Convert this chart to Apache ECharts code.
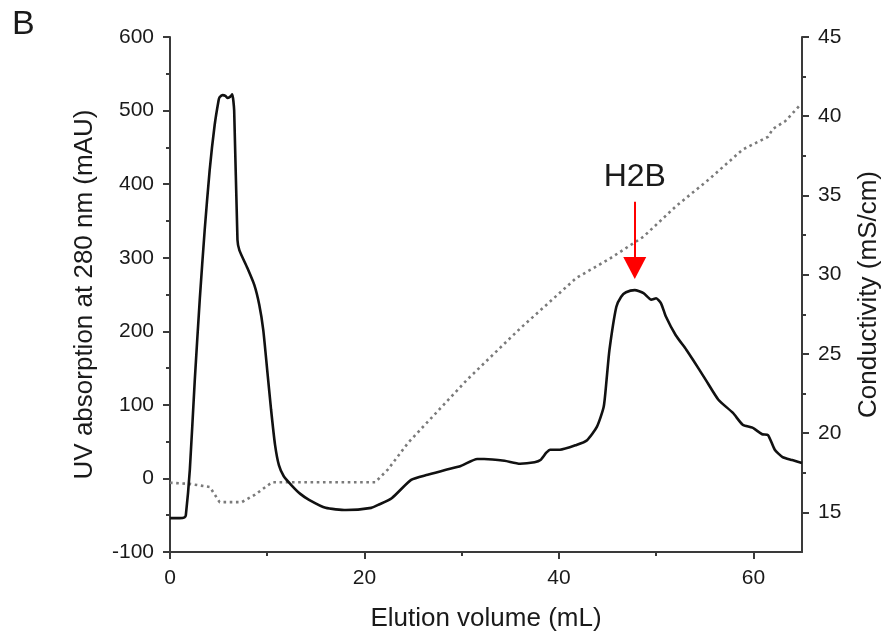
<!DOCTYPE html>
<html>
<head>
<meta charset="utf-8">
<script src="https://cdn.jsdelivr.net/npm/echarts@6/dist/echarts.min.js"></script>
<style>
  html, body { margin: 0; padding: 0; background: #fff; }
  #chart { width: 890px; height: 641px; }
</style>
</head>
<body>
<div id="chart"></div>
<script>
// Elution volume (mL) vs UV absorbance at 280 nm (mAU)
const uvVolume = [0, 1.0, 1.5, 1.63, 2.04, 2.55, 3.06, 3.57, 4.08, 4.59, 5.0, 5.1, 5.4, 5.7, 5.9, 6.2, 6.4, 6.6,
  6.94, 7.14, 7.96, 8.67, 9.18, 9.59, 10.0, 10.4, 10.8, 11.2, 11.7, 12.55, 13.4, 14.3, 16.0, 18.1, 20.7, 21.4, 22.8,
  24.8, 26.5, 28.3, 29.9, 31.6, 32.3, 34.4, 36.0, 37.5, 38.1, 38.7, 39.1, 40.1, 41.8, 42.9, 43.9, 44.6, 44.9,
  45.2, 45.9, 46.4, 46.9, 47.8, 48.7, 49.5, 50.0, 50.5, 51.0, 52.0, 53.1, 53.8, 55.1, 56.4, 57.9, 58.9, 59.9,
  60.9, 61.5, 62.2, 63.0, 64.0, 65.0];
const uvAbsorbance = [-54, -54, -53, -50, 12, 134, 243, 338, 419, 480, 514, 518, 521, 520, 517, 519, 522, 500,
  324, 310, 286, 263, 236, 202, 147, 93, 46, 18, 3, -10, -21, -29, -40, -43, -40, -36, -27,
  -2, 5, 11.6, 17, 26.5, 26.5, 24, 20, 22, 25, 35, 39, 39, 45.5, 52, 70, 97, 134,
  175, 233, 247, 253, 256, 252, 243, 245, 238, 220, 195, 175, 161, 134, 107, 89, 73, 69,
  60, 59, 39, 29, 25, 21];

// Elution volume (mL) vs conductivity (mS/cm)
const condVolume = [0, 2.0, 4.1, 5.1, 7.4, 8.7, 10.5, 21.1, 22.4, 24.5, 30.6, 36.0, 41.8, 45.2, 47.2, 48.7,
  52.0, 55.4, 58.9, 61.5, 62.0, 63.3, 64.8];
const conductivity = [16.87, 16.8, 16.6, 15.65, 15.65, 16.1, 16.9, 16.9, 17.7, 19.4, 23.4, 26.6, 29.8, 31.0,
  31.8, 32.4, 34.3, 36.0, 37.9, 38.7, 39.2, 39.7, 40.7];

// Axis tick values
const volumeTicks = [0, 20, 40, 60];
const volumeMinorTicks = [10, 30, 50];
const condTicks = [15, 20, 25, 30, 35, 40, 45];
const condMinorTicks = [17.5, 22.5, 27.5, 32.5, 37.5, 42.5];

// Peak annotation (mL, mAU)
const peakName = 'H2B';
const peakVolume = 47.8;
const arrowTop = 376;
const arrowShaftEnd = 300;
const arrowHeadCenter = 286;
const peakLabelY = 410;

const font = 'Liberation Sans, Arial, sans-serif';
const axisColor = '#3a3a3a';
const textColor = '#1a1a1a';

const pairs = (xs, ys) => xs.map((x, i) => [x, ys[i]]);

const chart = echarts.init(document.getElementById('chart'));
chart.setOption({
  animation: false,
  backgroundColor: '#ffffff',
  grid: { left: 170, right: 81, top: 37, bottom: 89, containLabel: false },
  graphic: [{
    type: 'text', left: 12, top: 8,
    style: { text: 'B', font: '34px ' + font, fill: textColor }
  }],
  xAxis: [{
    type: 'value', min: 0, max: 65, position: 'bottom',
    name: 'Elution volume (mL)', nameLocation: 'middle', nameGap: 54,
    nameTextStyle: { fontFamily: font, fontSize: 26, color: textColor },
    axisLine: { show: true, onZero: false, lineStyle: { color: axisColor, width: 2 } },
    axisTick: { show: true, inside: false, length: 7, customValues: volumeTicks, lineStyle: { color: axisColor, width: 2 } },
    axisLabel: { customValues: volumeTicks, margin: 16, fontFamily: font, fontSize: 21, color: textColor },
    splitLine: { show: false }
  }, {
    type: 'value', min: 0, max: 65, position: 'bottom', offset: 0,
    axisLine: { show: false, onZero: false },
    axisTick: { show: true, length: 4, customValues: volumeMinorTicks, lineStyle: { color: axisColor, width: 2 } },
    axisLabel: { show: false },
    splitLine: { show: false }
  }],
  yAxis: [{
    type: 'value', min: -100, max: 600, interval: 100, position: 'left',
    name: 'UV absorption at 280 nm (mAU)', nameLocation: 'middle', nameGap: 72,
    nameTextStyle: { fontFamily: font, fontSize: 26, color: textColor },
    axisLine: { show: true, onZero: false, lineStyle: { color: axisColor, width: 2 } },
    axisTick: { show: true, length: 7, lineStyle: { color: axisColor, width: 2 } },
    minorTick: { show: true, splitNumber: 2, length: 4, lineStyle: { color: axisColor, width: 2 } },
    axisLabel: { margin: 16, fontFamily: font, fontSize: 21, color: textColor },
    splitLine: { show: false }, minorSplitLine: { show: false }
  }, {
    type: 'value', min: 12.5, max: 45, position: 'right',
    name: 'Conductivity (mS/cm)', nameLocation: 'middle', nameGap: 54,
    nameTextStyle: { fontFamily: font, fontSize: 26, color: textColor },
    axisLine: { show: true, onZero: false, lineStyle: { color: axisColor, width: 2 } },
    axisTick: { show: true, length: 7, customValues: condTicks, lineStyle: { color: axisColor, width: 2 } },
    axisLabel: { customValues: condTicks, margin: 16, fontFamily: font, fontSize: 21, color: textColor },
    splitLine: { show: false }
  }, {
    type: 'value', min: 12.5, max: 45, position: 'right', offset: 0,
    axisLine: { show: false, onZero: false },
    axisTick: { show: true, length: 4, customValues: condMinorTicks, lineStyle: { color: axisColor, width: 2 } },
    axisLabel: { show: false },
    splitLine: { show: false }
  }],
  series: [{
    name: 'Conductivity', type: 'line', xAxisIndex: 0, yAxisIndex: 1,
    data: pairs(condVolume, conductivity),
    showSymbol: false, symbol: 'none',
    lineStyle: { color: '#7a7a7a', width: 2.6, type: [2.6, 3.6] },
    z: 2
  }, {
    name: 'UV 280 nm', type: 'line', xAxisIndex: 0, yAxisIndex: 0,
    data: pairs(uvVolume, uvAbsorbance),
    showSymbol: false, symbol: 'none', smooth: 0.2,
    lineStyle: { color: '#111111', width: 2.6 },
    markLine: {
      silent: true, symbol: 'none',
      lineStyle: { color: '#ff0000', width: 2, type: 'solid' },
      label: { show: false },
      data: [[{ coord: [peakVolume, arrowTop] }, { coord: [peakVolume, arrowShaftEnd] }]]
    },
    markPoint: {
      silent: true,
      data: [{
        coord: [peakVolume, arrowHeadCenter], symbol: 'triangle', symbolRotate: 180,
        symbolSize: [23, 22], itemStyle: { color: '#ff0000' }, label: { show: false }
      }, {
        coord: [peakVolume, peakLabelY], symbol: 'circle', symbolSize: 1,
        itemStyle: { color: 'rgba(0,0,0,0)' },
        label: { show: true, position: 'inside', formatter: peakName, fontFamily: font, fontSize: 32, color: textColor }
      }]
    },
    z: 3
  }]
});
</script>
</body>
</html>
